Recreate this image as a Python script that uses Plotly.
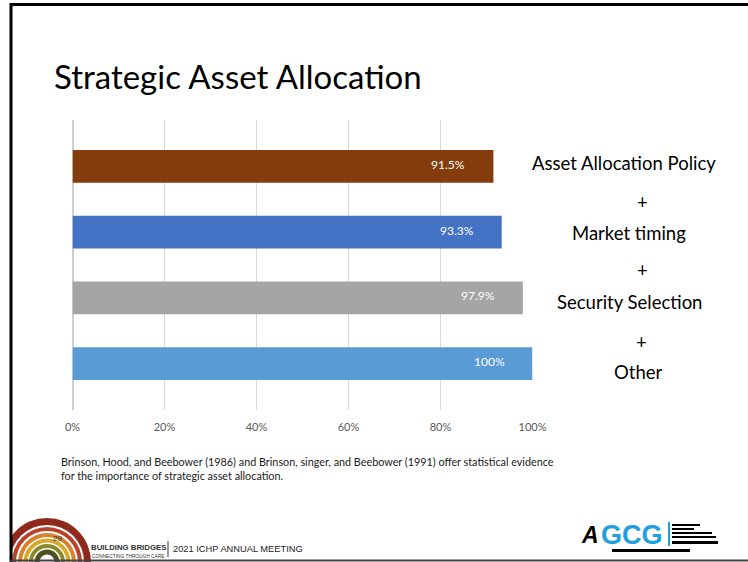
import plotly.graph_objects as go

W, H = 748, 562

categories = ["Asset Allocation Policy", "Market timing", "Security Selection", "Other"]
values = [91.5, 93.3, 97.9, 100]
value_labels = ["91.5%", "93.3%", "97.9%", "100%"]
bar_colors = ["#843C0C", "#4472C4", "#A5A5A5", "#5B9BD5"]
tick_vals = [0, 20, 40, 60, 80, 100]
tick_text = ["0%", "20%", "40%", "60%", "80%", "100%"]
right_labels = ["Asset Allocation Policy", "+", "Market timing", "+", "Security Selection", "+", "Other"]
title_text = "Strategic Asset Allocation"
footnote = ("Brinson, Hood, and Beebower (1986) and Brinson, singer, and Beebower (1991) offer statistical evidence"
            "<br>for the importance of strategic asset allocation.")


def px(x):
    return x / W


def py(y):
    return 1 - y / H


ypos = list(range(len(categories)))

fig = go.Figure()
fig.add_trace(go.Bar(
    x=values, y=ypos, orientation="h",
    marker=dict(color=bar_colors, line=dict(width=0)),
    width=0.5, hoverinfo="skip", showlegend=False,
))

annotations = []
for v, lab, yy in zip(values, value_labels, ypos):
    annotations.append(dict(
        x=v, y=yy, xref="x", yref="y", text=lab, showarrow=False,
        xanchor="right", yanchor="middle", xshift=-26, yshift=2,
        font=dict(family="Lato, sans-serif", size=12, color="#FFFFFF"),
    ))

right_y = [163, 202, 233, 270, 302, 342, 372]
right_x = [624, 642, 629, 642, 629, 641, 638]
for t, xx, yy in zip(right_labels, right_x, right_y):
    annotations.append(dict(
        x=px(xx), y=py(yy), xref="paper", yref="paper", text=t, showarrow=False,
        xanchor="center", yanchor="middle",
        font=dict(family="Lato, sans-serif", size=18.5, color="#000000"),
    ))

annotations.append(dict(
    x=px(52), y=py(76), xref="paper", yref="paper", text=title_text, showarrow=False,
    xanchor="left", yanchor="middle",
    font=dict(family="Lato, sans-serif", size=33, color="#000000"),
))
annotations.append(dict(
    x=px(59), y=py(468), xref="paper", yref="paper", text=footnote, showarrow=False,
    xanchor="left", yanchor="middle", align="left",
    font=dict(family="Lato, sans-serif", size=10.8, color="#1a1a1a"),
))
# footer texts
annotations += [
    dict(x=px(57), y=py(538), xref="paper", yref="paper", text="29", showarrow=False,
         xanchor="center", yanchor="middle", font=dict(family="Liberation Sans, sans-serif", size=8, color="#333333")),
    dict(x=px(89), y=py(547), xref="paper", yref="paper", text="<b>BUILDING BRIDGES</b>", showarrow=False,
         xanchor="left", yanchor="middle",
         font=dict(family="Liberation Sans, sans-serif", size=7.8, color="#333333")),
    dict(x=px(90), y=py(556), xref="paper", yref="paper", text="CONNECTING THROUGH CARE", showarrow=False,
         xanchor="left", yanchor="middle",
         font=dict(family="Liberation Sans, sans-serif", size=4.8, color="#333333")),
    dict(x=px(171), y=py(549), xref="paper", yref="paper", text="2021 ICHP ANNUAL MEETING", showarrow=False,
         xanchor="left", yanchor="middle",
         font=dict(family="Liberation Sans, sans-serif", size=9.3, color="#222222")),
    dict(x=px(579), y=py(535), xref="paper", yref="paper", text="<b><i>A</i></b>", showarrow=False,
         xanchor="left", yanchor="middle", font=dict(family="Liberation Sans, sans-serif", size=23, color="#000000")),
    dict(x=px(599), y=py(535), xref="paper", yref="paper", text="<b>GCG</b>", showarrow=False,
         xanchor="left", yanchor="middle", font=dict(family="Liberation Sans, sans-serif", size=27, color="#1E9FE0")),
]

shapes = []
# rainbow arcs (decoration)
cx, cy = 47, 562
rings = [(44, "#8E2A1C"), (37, "#FFFFFF"), (35, "#B8432A"), (31, "#FFFFFF"), (29, "#D9822B"),
         (25, "#FFFFFF"), (23.5, "#D8A928"), (19.5, "#FFFFFF"), (18, "#8A8A2A"), (14, "#FFFFFF"),
         (12.5, "#4F5220"), (7.5, "#FFFFFF")]
for r, c in rings:
    shapes.append(dict(type="circle", xref="paper", yref="paper",
                       x0=px(cx - r), x1=px(cx + r), y0=py(cy + r), y1=py(cy - r),
                       fillcolor=c, line=dict(width=0), layer="below"))
# mask left of border
shapes.append(dict(type="rect", xref="paper", yref="paper", x0=0, x1=px(10), y0=0, y1=1,
                   fillcolor="#FFFFFF", line=dict(width=0), layer="above"))
# borders
shapes.append(dict(type="rect", xref="paper", yref="paper", x0=px(10), x1=1, y0=py(6), y1=py(3),
                   fillcolor="#000000", line=dict(width=0)))
shapes.append(dict(type="rect", xref="paper", yref="paper", x0=px(9.5), x1=px(12.5), y0=0, y1=py(3),
                   fillcolor="#000000", line=dict(width=0)))
shapes.append(dict(type="rect", xref="paper", yref="paper", x0=px(10), x1=1, y0=py(561.5), y1=py(559.5),
                   fillcolor="#444444", line=dict(width=0)))
# footer separator
shapes.append(dict(type="line", xref="paper", yref="paper", x0=px(168), x1=px(168), y0=py(557), y1=py(541),
                   line=dict(color="#333333", width=1)))
# GCG logo: separator and small text bars
logo_bars = [(668, 670, 522, 546), (672, 700, 524, 526), (672, 694, 528, 530), (672, 712, 532, 534),
             (672, 716, 536, 538), (672, 718, 541, 544), (612, 690, 549, 552)]
for (x0, x1, y0, y1) in logo_bars:
    shapes.append(dict(type="rect", xref="paper", yref="paper", x0=px(x0), x1=px(x1), y0=py(y1), y1=py(y0),
                       fillcolor="#000000" if x0 != 668 else "#1E9FE0", line=dict(width=0)))

fig.update_layout(
    width=W, height=H, autosize=False,
    margin=dict(l=0, r=0, t=0, b=0, pad=0, autoexpand=False),
    paper_bgcolor="#FFFFFF", plot_bgcolor="#FFFFFF",
    bargap=0.5,
    xaxis=dict(domain=[px(72.5), px(532.5)], range=[0, 100], tickvals=tick_vals, ticktext=tick_text,
               showgrid=True, gridcolor="#D9D9D9", gridwidth=1, zeroline=True, zerolinecolor="#CFCFCF",
               showline=False, ticks="", ticklabelstandoff=9, automargin=False,
               tickfont=dict(family="Lato, sans-serif", size=11, color="#595959"), fixedrange=True),
    yaxis=dict(domain=[py(410), py(120)], range=[3.705, -0.705], showticklabels=False, showgrid=False,
               zeroline=False, showline=False, ticks="", automargin=False, fixedrange=True),
    annotations=annotations,
    shapes=shapes,
    showlegend=False,
)

fig.write_html("out.html", config={"displayModeBar": False},
               post_script="document.body.style.margin='0px';")
